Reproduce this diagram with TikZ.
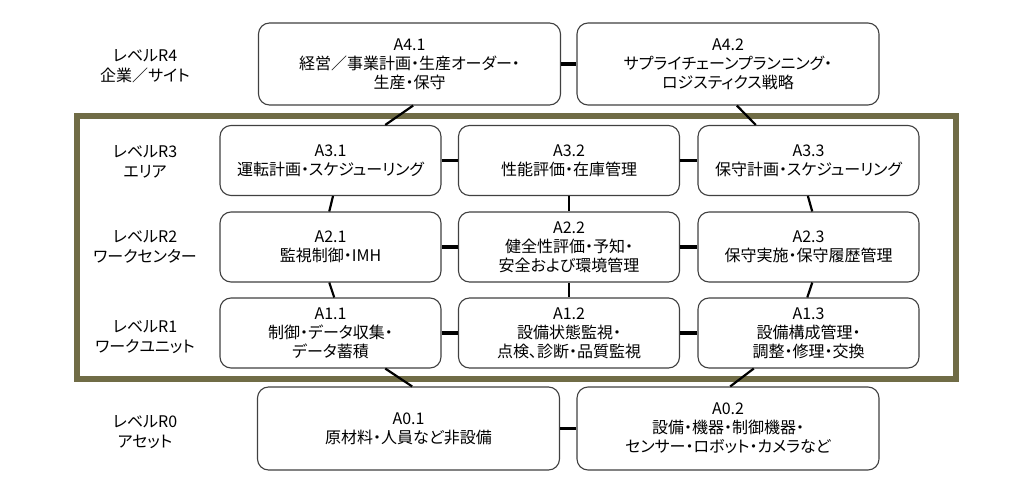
\documentclass[tikz,border=0pt]{standalone}
\usepackage{fontspec}
\setmainfont[RawFeature=+palt]{Noto Sans CJK JP}
\definecolor{areaframe}{RGB}{112,108,70}

\begin{document}
\begin{tikzpicture}[x=1pt,y=-1pt,every node/.style={align=center,text=black,
    font=\fontsize{16}{19}\selectfont}]
  \tikzset{
    fn/.style={draw=black!75,line width=1.1pt,rounded corners=11pt,fill=white,
      minimum width=221pt,minimum height=70pt,inner sep=2pt},
    wide/.style={fn,minimum width=302pt,minimum height=82pt}, % R4 and R0 boxes
    lvl/.style={font=\fontsize{16}{20}\selectfont},
    link/.style={line width=3.3pt}, % links inside a level
    uplink/.style={line width=2.2pt} % links between levels
  }
  \useasboundingbox (0,0) rectangle (1030,489);

  % levels R1 to R3
  \draw[areaframe,line width=5.5pt] (77,116) rectangle (956,379);

  \node[lvl] (L4) at (145,66) {レベルR4\\企業／サイト};
  \node[lvl] (L3) at (145,162) {レベルR3\\エリア};
  \node[lvl] (L2) at (145,247) {レベルR2\\ワークセンター};
  \node[lvl] (L1) at (145,337) {レベルR1\\ワークユニット};
  \node[lvl] (L0) at (145,432) {レベルR0\\アセット};

  \node[wide] (A41) at (409.5,64) {A4.1\\経営／事業計画・生産オーダー・\\生産・保守};
  \node[wide] (A42) at (728,64) {A4.2\\サプライチェーンプランニング・\\ロジスティクス戦略};

  \node[fn] (A31) at (330.5,160.5) {A3.1\\運転計画・スケジューリング};
  \node[fn] (A32) at (569,160.5) {A3.2\\性能評価・在庫管理};
  \node[fn] (A33) at (808.5,160.5) {A3.3\\保守計画・スケジューリング};

  \node[fn] (A21) at (330.5,247) {A2.1\\監視制御・IMH};
  \node[fn] (A22) at (569,247) {A2.2\\健全性評価・予知・\\安全および環境管理};
  \node[fn] (A23) at (808.5,247) {A2.3\\保守実施・保守履歴管理};

  \node[fn] (A11) at (330.5,333) {A1.1\\制御・データ収集・\\データ蓄積};
  \node[fn] (A12) at (569,333) {A1.2\\設備状態監視・\\点検、診断・品質監視};
  \node[fn] (A13) at (808.5,333) {A1.3\\設備構成管理・\\調整・修理・交換};

  \node[wide,minimum height=83pt] (A01) at (408.5,428.5) {A0.1\\原材料・人員など非設備};
  \node[wide,minimum height=83pt] (A02) at (728,428.5) {A0.2\\設備・機器・制御機器・\\センサー・ロボット・カメラなど};

  \draw[link] (A41.east) -- (A42.west);
  \draw[link] (A31.east) -- (A32.west);
  \draw[link] (A32.east) -- (A33.west);
  \draw[link] (A21.east) -- (A22.west);
  \draw[link] (A22.east) -- (A23.west);
  \draw[link] (A11.east) -- (A12.west);
  \draw[link] (A12.east) -- (A13.west);
  \draw[link] (A01.east) -- (A02.west);

  \draw[uplink] (A41.-85) -- (A31.33);
  \draw[uplink] (A42.-78) -- (A33.146);
  \draw[uplink] (A31.-86) -- (A21.92);
  \draw[uplink] (A21.-92) -- (A11.84);
  \draw[uplink] (A32.south) -- (A22.north);
  \draw[uplink] (A22.south) -- (A12.north);
  \draw[uplink] (A33.-91) -- (A23.84);
  \draw[uplink] (A23.-84) -- (A13.92);
  \draw[uplink] (A11.-33) -- (A01.85);
  \draw[uplink] (A13.-147) -- (A02.87);
\end{tikzpicture}
\end{document}
